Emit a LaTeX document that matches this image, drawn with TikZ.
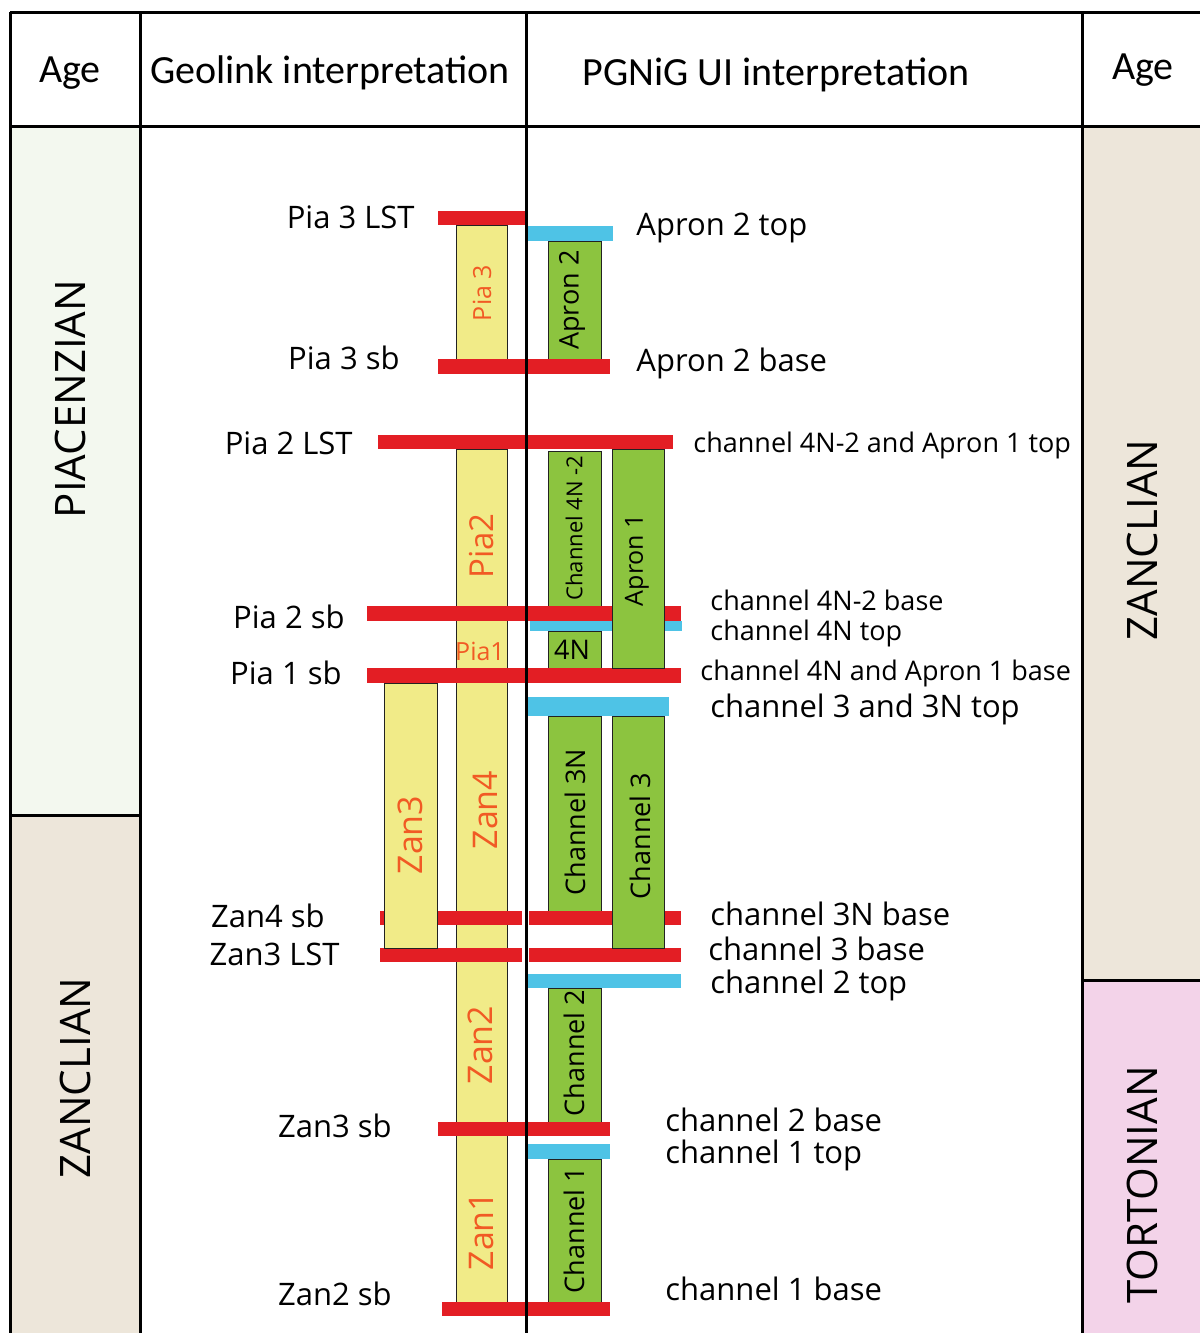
\documentclass[tikz,border=0pt]{standalone}
\usepackage{fontspec}
\setmainfont{Open Sans}
\newfontfamily\hdfont{Carlito}
\usepackage{tikz}
\usetikzlibrary{positioning}
\definecolor{barred}{HTML}{E31E24}
\definecolor{barblue}{HTML}{4EC3E6}
\definecolor{coly}{HTML}{F1EB88}
\definecolor{colg}{HTML}{8CC43F}
\definecolor{ora}{HTML}{F15A24}
\definecolor{pia}{HTML}{F3F8EF}
\definecolor{zan}{HTML}{EDE6DA}
\definecolor{tor}{HTML}{F3D3E9}
\definecolor{ink}{HTML}{222222}
\tikzset{
  tline/.style={draw=black,line width=1.5pt},
  redbar/.style={fill=barred},
  bluebar/.style={fill=barblue},
  ycol/.style={fill=coly,draw=ink,line width=0.5pt},
  gcol/.style={fill=colg,draw=ink,line width=0.5pt},
  hd/.style={inner sep=0pt,font=\hdfont\fontsize{20}{24}\selectfont},
  agelab/.style={rotate=90,inner sep=0pt,font=\fontsize{21}{25}\selectfont},
  glab/.style={anchor=base east,inner sep=0pt,font=\fontsize{15.5}{18}\selectfont},
  plab/.style={anchor=base west,inner sep=0pt,font=\fontsize{15.5}{18}\selectfont},
  splab/.style={plab,font=\fontsize{13.5}{16}\selectfont},
  olab/.style={rotate=90,inner sep=0pt,text=ora},
  clab/.style={rotate=90,inner sep=0pt},
}
\begin{document}
\begin{tikzpicture}[x=0.5pt,y=-0.5pt]
\useasboundingbox (0,0) rectangle (1200,1333);
% age cells
\fill[pia] (10,126) rectangle (140,815);
\fill[zan] (10,815) rectangle (140,1333);
\fill[zan] (1082,126) rectangle (1200,980);
\fill[tor] (1082,980) rectangle (1200,1333);
% columns under the surfaces
\foreach \a/\t/\b/\u in {456/225/507/359,456/449/507/1302}
  \draw[ycol] (\a,\t) rectangle (\b,\u);
\foreach \a/\t/\b/\u in {548/241/601/359,548/451/601/606,548/631/601/668,548/716/601/911,548/988/601/1122,548/1159/601/1302}
  \draw[gcol] (\a,\t) rectangle (\b,\u);
% surfaces
\foreach \a/\t/\b/\u in {438/211/525/225,438/359/610/374,378/435/673/449,367/606/681/621,367/668/681/683,380/911/522/925,529/911/681/925,380/948/522/962,529/948/681/962,438/1122/610/1136,442/1302/610/1316}
  \fill[redbar] (\a,\t) rectangle (\b,\u);
\foreach \a/\t/\b/\u in {528/226/613/241,530/621/682/631,526/697/669/716,528/974/681/988,528/1144/610/1159}
  \fill[bluebar] (\a,\t) rectangle (\b,\u);
% columns over the surfaces
\draw[ycol] (384,683) rectangle (437,948);
\draw[gcol] (612,449) rectangle (664,668);
\draw[gcol] (612,716) rectangle (664,948);
% header
\node[hd] (hAgeL) at (70,73) {Age};
\node[hd] (hGeo) at (330,73) {Geolink interpretation};
\node[hd] (hPgn) at (776,75) {PGNiG UI interpretation};
\node[hd] (hAgeR) at (1143,70) {Age};
% stages
\node[agelab] (aPia) at (70,399) {PIACENZIAN};
\node[agelab] (aZanL) at (75,1078) {ZANCLIAN};
\node[agelab] (aZanR) at (1142,540) {ZANCLIAN};
\node[agelab] (aTor) at (1142,1185) {TORTONIAN};
% Geolink surfaces
\foreach \x/\y/\t [count=\k] in {415/228/Pia 3 LST,400/369/Pia 3 sb,353/454/Pia 2 LST,345/628/Pia 2 sb,342/684/Pia 1 sb,325/927/Zan4 sb,340/965/Zan3 LST,392/1137/Zan3 sb,392/1305/Zan2 sb}
  \node[glab] (gl\k) at (\x,\y) {\t};
% PGNiG surfaces
\foreach \x/\y/\t [count=\k] in {636/235/Apron 2 top,636/371/Apron 2 base,710/717/channel 3 and 3N top,710/925/channel 3N base,708/960/channel 3 base,710/993/channel 2 top,665/1131/channel 2 base,665/1163/channel 1 top,665/1300/channel 1 base}
  \node[plab] (pl\k) at (\x,\y) {\t};
\foreach \x/\y/\t [count=\k] in {693/452/channel 4N-2 and Apron 1 top,710/610/channel 4N-2 base,710/640/channel 4N top,700/680/channel 4N and Apron 1 base}
  \node[splab] (sp\k) at (\x,\y) {\t};
% units
\node[olab,font=\fontsize{12.5}{15}\selectfont] (uPia3) at (482,293) {Pia 3};
\node[olab,font=\fontsize{16.5}{20}\selectfont] (uPia2) at (482,546) {Pia2};
\node[olab,rotate=-90,font=\fontsize{12.5}{15}\selectfont] (uPia1) at (480,651) {Pia1};
\foreach \x/\y/\t in {410/835/Zan3,485/810/Zan4,480/1045/Zan2,482/1231/Zan1}
  \node[olab,font=\fontsize{17}{20}\selectfont] (u\t) at (\x,\y) {\t};
\node[clab,font=\fontsize{13.5}{16}\selectfont] (cAp2) at (572,300) {Apron 2};
\node[clab,font=\fontsize{11}{13}\selectfont] (cCh4N2) at (574,528) {Channel 4N -2};
\node[clab,font=\fontsize{12.5}{15}\selectfont] (cAp1) at (637,560) {Apron 1};
\node[clab,rotate=-90,font=\fontsize{13.5}{16}\selectfont] (cCh4N) at (572,650) {4N};
\foreach \x/\y/\t/\n in {575/822/Channel 3N/Ch3N,640/836/Channel 3/Ch3,574/1053/Channel 2/Ch2,574/1230/Channel 1/Ch1}
  \node[clab,font=\fontsize{13.5}{16}\selectfont] (c\n) at (\x,\y) {\t};
% table
\draw[tline] (10,12) -- (1200,12);
\draw[tline] (10,126) -- (1200,126);
\foreach \x in {10,140,526,1082}
  \draw[tline] (\x,12) -- (\x,1333);
\draw[tline] (10,815) -- (140,815);
\draw[tline] (1082,980) -- (1200,980);
\end{tikzpicture}
\end{document}
